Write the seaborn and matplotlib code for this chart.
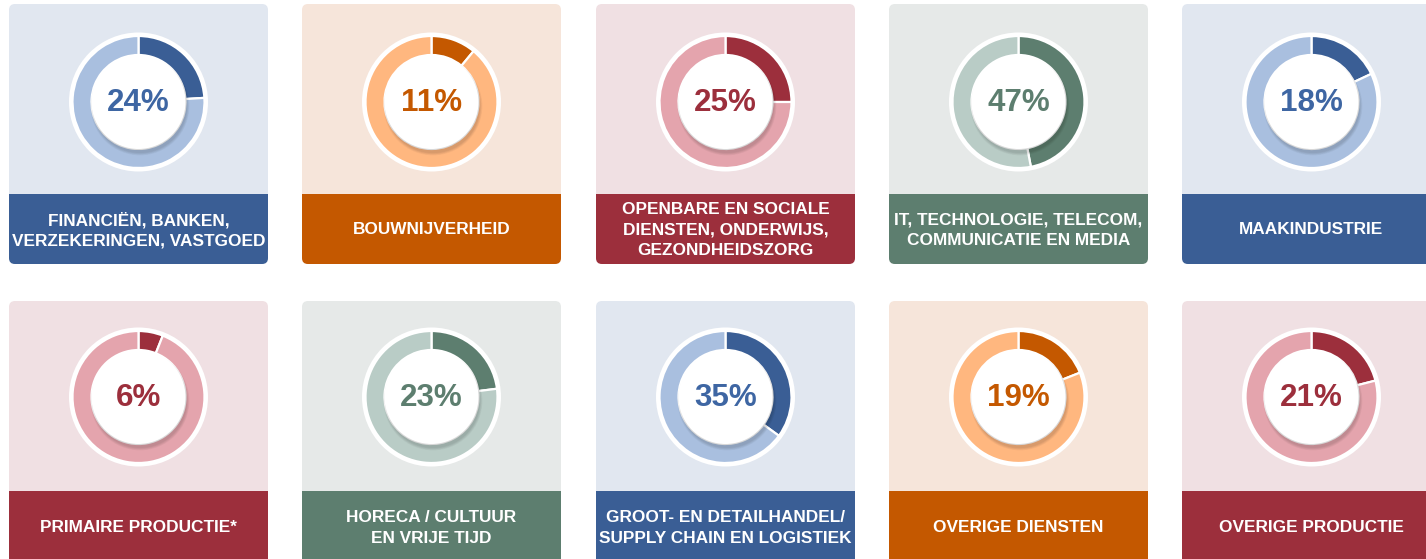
import matplotlib
matplotlib.use("Agg")
import matplotlib.pyplot as plt
import seaborn as sns
from matplotlib.patches import FancyBboxPatch, Rectangle, Circle

sns.set_theme(style="white")
plt.rcParams['font.family'] = ['Liberation Sans', 'DejaVu Sans']

# ---- data ----
labels = [
    "FINANCIËN, BANKEN,\nVERZEKERINGEN, VASTGOED",
    "BOUWNIJVERHEID",
    "OPENBARE EN SOCIALE\nDIENSTEN, ONDERWIJS,\nGEZONDHEIDSZORG",
    "IT, TECHNOLOGIE, TELECOM,\nCOMMUNICATIE EN MEDIA",
    "MAAKINDUSTRIE",
    "PRIMAIRE PRODUCTIE*",
    "HORECA / CULTUUR\nEN VRIJE TIJD",
    "GROOT- EN DETAILHANDEL/\nSUPPLY CHAIN EN LOGISTIEK",
    "OVERIGE DIENSTEN",
    "OVERIGE PRODUCTIE",
]
values = [24, 11, 25, 47, 18, 6, 23, 35, 19, 21]
themes = ["blue", "orange", "red", "green", "blue",
          "red", "green", "blue", "orange", "red"]

palette = {
    "blue":   dict(bg="#e1e7f0", band="#3a5e95", dark="#3a5e95", light="#a9bfdf", text="#3e66a3"),
    "orange": dict(bg="#f6e5da", band="#c45800", dark="#c45800", light="#ffb77f", text="#c45800"),
    "red":    dict(bg="#f0e0e3", band="#9c2f3c", dark="#9c2f3c", light="#e4a4ad", text="#9c2f3c"),
    "green":  dict(bg="#e6e9e8", band="#5d7e6f", dark="#5d7e6f", light="#b9ccc6", text="#5d7e6f"),
}

W, H = 1426, 559
fig = plt.figure(figsize=(W / 100, H / 100), dpi=100)
fig.patch.set_facecolor("white")
base = fig.add_axes([0, 0, 1, 1])
base.set_xlim(0, W)
base.set_ylim(H, 0)
base.axis("off")

card_lefts = [9, 302, 596, 889, 1182]
card_w = 259
rows = [
    dict(top=4, bottom=264, band_top=194, text_y=230, cy=102),
    dict(top=301, bottom=575, band_top=491, text_y=528, cy=397),
]
R_OUT, RING_W = 66, 19
BOX = 160  # donut axes size in px

for i, (lab, val, th) in enumerate(zip(labels, values, themes)):
    row = rows[i // 5]
    x0 = card_lefts[i % 5]
    c = palette[th]
    h = row["bottom"] - row["top"]
    base.add_patch(FancyBboxPatch((x0, row["top"]), card_w, h,
                                  boxstyle="round,pad=0,rounding_size=6",
                                  fc=c["bg"], ec="none", zorder=1))
    bh = row["bottom"] - row["band_top"]
    base.add_patch(FancyBboxPatch((x0, row["band_top"]), card_w, bh,
                                  boxstyle="round,pad=0,rounding_size=6",
                                  fc=c["band"], ec="none", zorder=2))
    base.add_patch(Rectangle((x0, row["band_top"]), card_w, 10,
                             fc=c["band"], ec="none", zorder=2))
    base.text(x0 + card_w / 2, row["text_y"], lab, ha="center", va="center",
              color="white", fontsize=12.4, fontweight="bold",
              linespacing=1.43, zorder=5)

    # donut
    cx = x0 + card_w / 2
    cy = row["cy"]
    ax = fig.add_axes([(cx - BOX / 2) / W, 1 - (cy + BOX / 2) / H, BOX / W, BOX / H])
    ax.set_facecolor("none")
    ax.add_patch(Circle((0, 0), R_OUT + 3.5, fc="white", ec="none", zorder=0))
    ax.pie([val, 100 - val], colors=[c["dark"], c["light"]], startangle=90,
           counterclock=False, radius=R_OUT,
           wedgeprops=dict(width=RING_W, edgecolor="white", linewidth=1.6))
    for k in range(5):
        ax.add_patch(Circle((1.5, -4.0), R_OUT - RING_W + k * 0.6,
                            fc="black", ec="none", alpha=0.03, zorder=3))
    ax.add_patch(Circle((0, 0), R_OUT - RING_W, fc="white", ec="none", zorder=4))
    ax.text(0, -1, f"{val}%", ha="center", va="center", color=c["text"],
            fontsize=22.6, fontweight="bold", zorder=5)
    ax.set_xlim(-BOX / 2, BOX / 2)
    ax.set_ylim(-BOX / 2, BOX / 2)
    ax.set_aspect("equal")
    ax.axis("off")

fig.savefig("out.png", dpi=100, facecolor="white")
